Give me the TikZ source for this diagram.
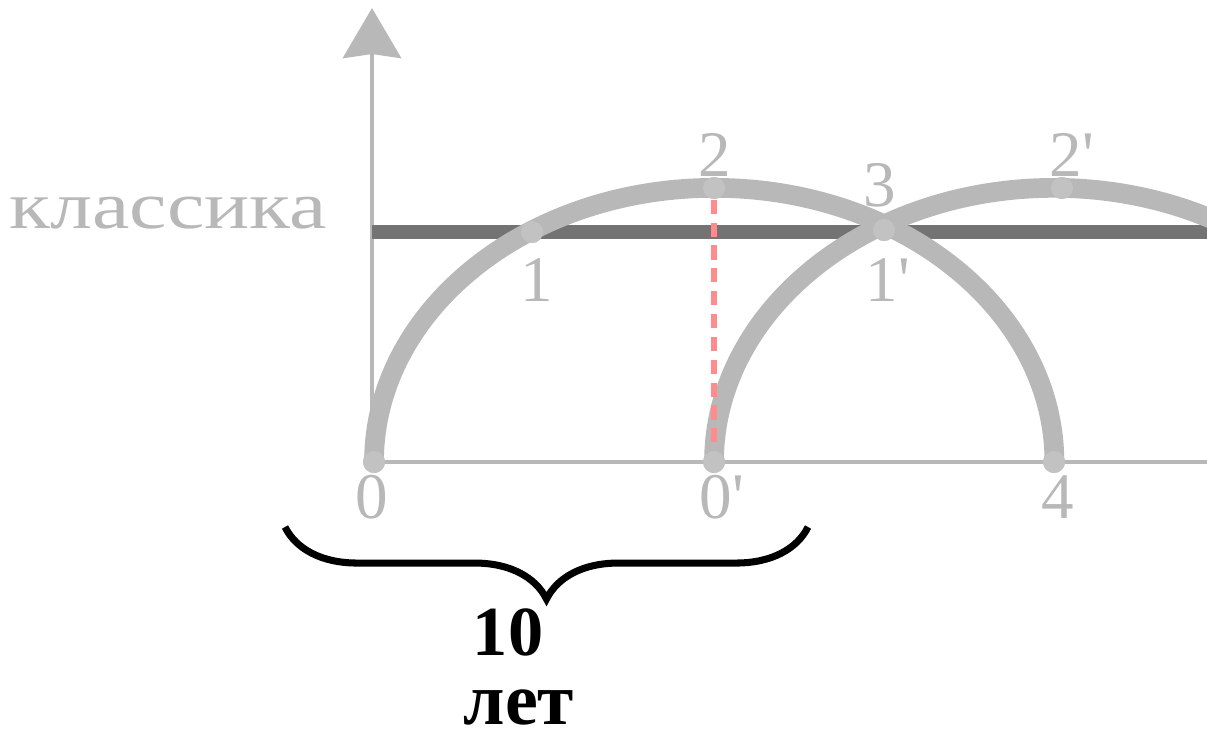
\documentclass[tikz,border=0pt]{standalone}
\usepackage{fontspec}
\setmainfont{Liberation Serif}
\usepackage{tikz}
\usetikzlibrary{arrows.meta, decorations.pathreplacing}

\begin{document}
\begin{tikzpicture}[
    x=0.01cm, y=-0.01cm,
    axis/.style={line width=1.4pt, draw=black!28},
    arcline/.style={line width=5.6pt, draw=black!28},
    classic/.style={line width=4pt, draw=black!55},
    dashline/.style={line width=1.6pt, draw=red!45, dash pattern=on 4pt off 2.5pt},
    dot/.style={circle, fill=black!24, inner sep=0pt, minimum size=0.22cm},
    lbl/.style={font=\fontsize{18.5}{20}\selectfont, text=black!28, inner sep=1pt},
    bold/.style={font=\fontsize{20}{24}\selectfont\bfseries, text=black, inner sep=0pt, text depth=0pt, anchor=base},
]
\useasboundingbox (0,0) rectangle (1207,739);

% Points
\coordinate (ytop) at (372,8);
\coordinate (xend) at (1207,462);
\coordinate (cstart) at (372,232);
\coordinate (cend) at (1207,232);
\node[dot] (p0) at (374,462) {};
\node[dot] (p0b) at (714,462) {};
\node[dot] (p4) at (1054,462) {};
\node[dot] (p1) at (532,232) {};
\node[dot] (p2) at (714,188) {};
\node[dot] (p3) at (884,230) {};
\node[dot] (p2b) at (1062,188) {};

% Axes
\draw[axis, -{Stealth[length=0.5cm, width=0.58cm, inset=0.04cm]}] (372,462) -- (ytop);
\draw[axis] (372,462) -- (xend);

% Classic line
\draw[classic] (cstart) -- (cend);

% Arcs
\draw[arcline] (p0.center) arc[start angle=180, end angle=0, x radius=3.40cm, y radius=2.74cm];
\draw[arcline] (p0b.center) arc[start angle=180, end angle=55, x radius=3.40cm, y radius=2.74cm];

% Dashed drop from 2
\draw[dashline] (p2) -- (p0b);

% Dots on top
\foreach \p in {p0, p0b, p4, p1, p2, p3, p2b}
  \node[dot] at (\p) {};

% Labels
\node[lbl] (l0) at (372,497) {0};
\node[lbl] (l0b) at (722,497) {0\textquotesingle};
\node[lbl] (l4) at (1058,497) {4};
\node[lbl] (l1) at (537,280) {1};
\node[lbl] (l2) at (715,155) {2};
\node[lbl] (l3) at (880,185) {3};
\node[lbl] (l1b) at (888,280) {1\textquotesingle};
\node[lbl] (l2b) at (1072,155) {2\textquotesingle};
\node[lbl, font=\fontsize{19}{22}\selectfont, xscale=1.26] (classika) at (168,213) {классика};

% Brace
\coordinate (bl) at (285,527);
\coordinate (br) at (808,527);
\draw[line width=2pt, decorate, decoration={brace, amplitude=0.72cm}] (br) -- (bl);
\node[bold] (ten) at (508,655) {10};
\node[bold, font=\fontsize{21}{24}\selectfont\bfseries] (years) at (519,724) {лет};

\end{tikzpicture}
\end{document}
